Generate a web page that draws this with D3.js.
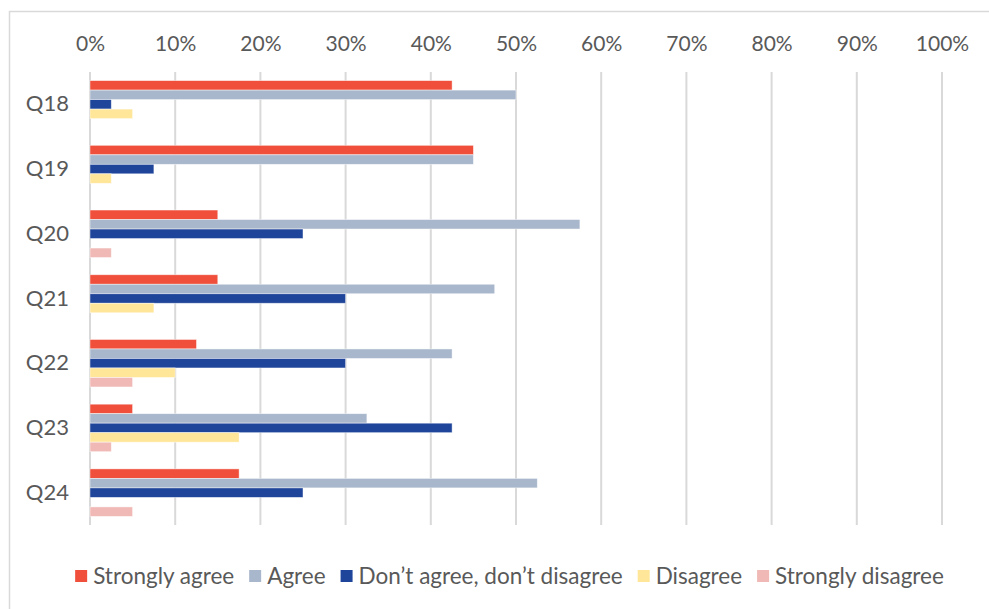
<!DOCTYPE html>
<html>
<head>
<meta charset="utf-8">
<script src="https://cdn.jsdelivr.net/npm/d3@7/dist/d3.min.js"></script>
<style>
  html, body { margin: 0; padding: 0; background: #fff; }
  svg { display: block; font-family: Lato, "Open Sans", sans-serif; }
</style>
</head>
<body>
<svg id="chart" width="989" height="609"></svg>
<script>
// Survey responses, share of respondents per answer
const questions = ["Q18", "Q19", "Q20", "Q21", "Q22", "Q23", "Q24"];
const seriesNames = ["Strongly agree", "Agree", "Don\u2019t agree, don\u2019t disagree", "Disagree", "Strongly disagree"];
const seriesColors = ["#ef4f3b", "#a9b7cc", "#1f459a", "#ffe699", "#f0b9b5"];
const stronglyAgree = [0.425, 0.45, 0.15, 0.15, 0.125, 0.05, 0.175];
const agree = [0.50, 0.45, 0.575, 0.475, 0.425, 0.325, 0.525];
const neutral = [0.025, 0.075, 0.25, 0.30, 0.30, 0.425, 0.25];
const disagree = [0.05, 0.025, 0, 0.075, 0.10, 0.175, 0];
const stronglyDisagree = [0, 0, 0.025, 0, 0.05, 0.025, 0.05];
const tickValues = [0, 0.1, 0.2, 0.3, 0.4, 0.5, 0.6, 0.7, 0.8, 0.9, 1.0];

const seriesValues = [stronglyAgree, agree, neutral, disagree, stronglyDisagree];

const svg = d3.select("#chart");
const textColor = "#595959";
const gridColor = "#d9d9d9";

// outer chart frame
svg.append("rect")
  .attr("x", 9.5).attr("y", 11.5)
  .attr("width", 1000).attr("height", 700)
  .attr("fill", "none").attr("stroke", gridColor).attr("stroke-width", 1.5);

const plot = { left: 90, right: 942, top: 72, bottom: 525 };

const x = d3.scaleLinear().domain([0, 1]).range([plot.left, plot.right]);
const y = d3.scaleBand().domain(questions).range([plot.top, plot.bottom])
  .paddingInner(0.266).paddingOuter(0.133);
const ySub = d3.scaleBand().domain(d3.range(seriesNames.length)).range([0, y.bandwidth()]);

// vertical gridlines
svg.append("g").selectAll("line").data(tickValues).join("line")
  .attr("x1", d => x(d)).attr("x2", d => x(d))
  .attr("y1", plot.top).attr("y2", plot.bottom)
  .attr("stroke", gridColor).attr("stroke-width", 2);

// top axis labels
const xAxis = d3.axisTop(x).tickValues(tickValues).tickFormat(d3.format(".0%")).tickSize(0).tickPadding(0);
const gx = svg.append("g").attr("transform", "translate(0,51)").call(xAxis);
gx.select(".domain").remove();
gx.selectAll("text").attr("fill", textColor).attr("font-size", 21).attr("font-family", "Lato, sans-serif");

// left category labels
const yAxis = d3.axisLeft(y).tickSize(0).tickPadding(21);
const gy = svg.append("g").attr("transform", `translate(${plot.left},0)`).call(yAxis);
gy.select(".domain").remove();
gy.selectAll("text").attr("fill", textColor).attr("font-size", 22).attr("font-family", "Lato, sans-serif");

// bars
const rows = [];
questions.forEach((q, qi) => {
  seriesValues.forEach((vals, si) => {
    rows.push({ q, si, v: vals[qi] });
  });
});
svg.append("g").selectAll("rect").data(rows.filter(d => d.v > 0)).join("rect")
  .attr("x", x(0))
  .attr("y", d => y(d.q) + ySub(d.si))
  .attr("width", d => x(d.v) - x(0))
  .attr("height", ySub.bandwidth())
  .attr("fill", d => seriesColors[d.si])
  .attr("stroke", "#ffffff").attr("stroke-opacity", 0.6).attr("stroke-width", 0.75);

// legend, centred under the plot
const legend = svg.append("g");
const items = legend.selectAll("g").data(seriesNames).join("g");
items.append("rect").attr("width", 12).attr("height", 12).attr("y", -13)
  .attr("fill", (d, i) => seriesColors[i]);
items.append("text").attr("x", 18).attr("y", 0).attr("dy", "0.05em")
  .attr("font-size", 22.5).attr("fill", textColor).text(d => d);
let cursor = 0;
items.each(function () {
  const w = 18 + d3.select(this).select("text").node().getComputedTextLength();
  d3.select(this).attr("transform", `translate(${cursor},0)`);
  cursor += w + 15;
});
const legendWidth = cursor - 15;
legend.attr("transform", `translate(${(75 + 944) / 2 - legendWidth / 2},583)`);
</script>
</body>
</html>
